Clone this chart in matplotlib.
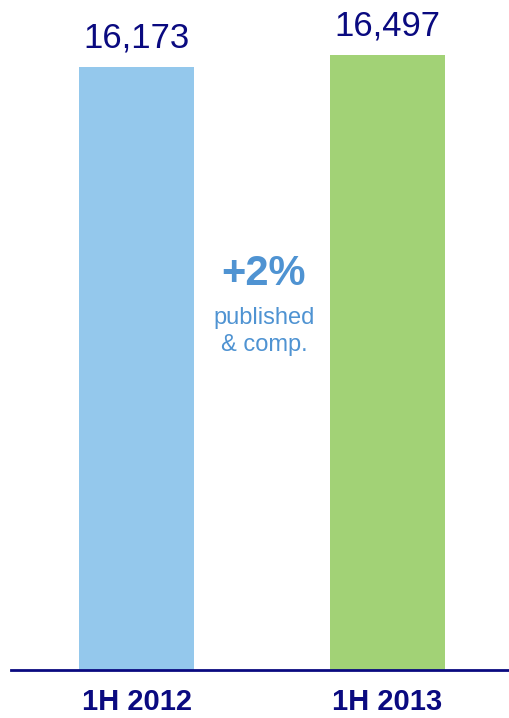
import matplotlib.pyplot as plt

plt.rcParams['font.family'] = ['Liberation Sans', 'DejaVu Sans']

periods = ['1H 2012', '1H 2013']
values = [16173, 16497]
bar_colors = ['#94c8ec', '#a2d276']
change_pct = '+2%'
change_note = 'published\n& comp.'

navy = '#0a0a80'
blue_txt = '#4f93d2'

fig = plt.figure(figsize=(5.10, 7.18), dpi=100)
ax = fig.add_axes([11 / 510, 48 / 718, 1 - 11 / 510, 1 - 48 / 718])

x = list(range(len(values)))
ax.bar(x, values, width=0.458, color=bar_colors)
ax.set_xlim(-0.5, 1.488)
ax.set_ylim(0, 17972)

for xi, v in zip(x, values):
    ax.annotate(f'{v:,}', xy=(xi, v), xytext=(0, 9), textcoords='offset points',
                ha='center', va='bottom', fontsize=25, color=navy)

ax.set_xticks(x)
ax.set_xticklabels(periods, fontsize=21, fontweight='bold', color=navy)
ax.tick_params(axis='x', length=0, pad=13)
ax.set_yticks([])

for s in ['top', 'right', 'left']:
    ax.spines[s].set_visible(False)
ax.spines['bottom'].set_color(navy)
ax.spines['bottom'].set_linewidth(2)

ax.text(0.507, 0.591, change_pct, transform=ax.transAxes, ha='center', va='center',
        fontsize=30, fontweight='bold', color=blue_txt)
ax.text(0.507, 0.505, change_note, transform=ax.transAxes, ha='center', va='center',
        fontsize=17, color=blue_txt, linespacing=1.3)

fig.savefig('out.png', dpi=100)
